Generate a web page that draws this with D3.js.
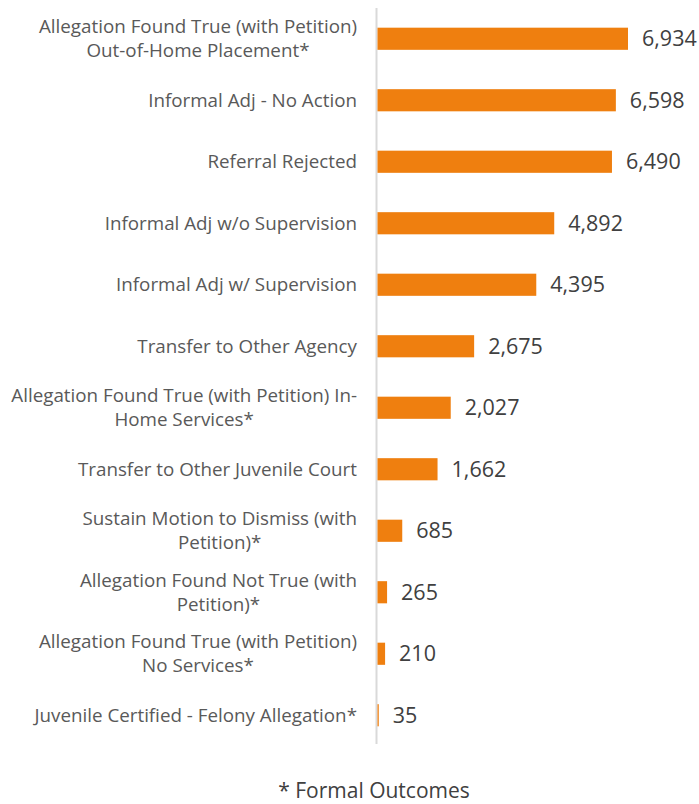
<!DOCTYPE html>
<html>
<head>
<meta charset="utf-8">
<script src="https://cdn.jsdelivr.net/npm/d3@7"></script>
<style>
  body { margin: 0; background: #fff; }
  svg text { font-family: "Open Sans", sans-serif; }
</style>
</head>
<body>
<div id="chart"></div>
<script>
const categories = [
  ["Allegation Found True (with Petition)", "Out-of-Home Placement*"],
  ["Informal Adj - No Action"],
  ["Referral Rejected"],
  ["Informal Adj w/o Supervision"],
  ["Informal Adj w/ Supervision"],
  ["Transfer to Other Agency"],
  ["Allegation Found True (with Petition) In-", "Home Services*"],
  ["Transfer to Other Juvenile Court"],
  ["Sustain Motion to Dismiss (with", "Petition)*"],
  ["Allegation Found Not True (with", "Petition)*"],
  ["Allegation Found True (with Petition)", "No Services*"],
  ["Juvenile Certified - Felony Allegation*"]
];
const values = [6934, 6598, 6490, 4892, 4395, 2675, 2027, 1662, 685, 265, 210, 35];
const footnote = "* Formal Outcomes";

const W = 699, H = 804;
const x0 = 377.5;
const svg = d3.select('#chart').append('svg')
  .attr('width', W)
  .attr('height', H);

const x = d3.scaleLinear().domain([0, 6934]).range([x0, 628]);
const y = d3.scaleBand().domain(d3.range(values.length)).range([8, 746]).paddingInner(0.64).paddingOuter(0.32);

// axis line (under the bars)
svg.append('line')
  .attr('x1', 376.5).attr('x2', 376.5)
  .attr('y1', 8).attr('y2', 744)
  .attr('stroke', '#d9d9d9')
  .attr('stroke-width', 2);

svg.selectAll('rect.bar')
  .data(values)
  .enter().append('rect')
  .attr('class', 'bar')
  .attr('x', x0)
  .attr('y', (d, i) => y(i))
  .attr('width', d => x(d) - x0)
  .attr('height', y.bandwidth())
  .attr('fill', '#ef7f0f');

// category labels: lines centred on each other, block right-aligned at 357
const labels = svg.selectAll('g.cat')
  .data(categories)
  .enter().append('g')
  .attr('class', 'cat');

labels.each(function(lines, i) {
  const g = d3.select(this);
  const cy = y(i) + y.bandwidth() / 2;
  const lh = 24;
  const top = cy - (lines.length - 1) * lh / 2;
  const txt = g.selectAll('text')
    .data(lines)
    .enter().append('text')
    .attr('y', (d, j) => top + j * lh)
    .attr('dy', '0.35em')
    .attr('font-size', '18.8px')
    .attr('fill', '#595959')
    .attr('text-anchor', 'middle')
    .text(d => d);
  let maxW = 0;
  txt.each(function() { maxW = Math.max(maxW, this.getComputedTextLength()); });
  txt.attr('x', 357 - maxW / 2);
});

// value labels
svg.selectAll('text.val')
  .data(values)
  .enter().append('text')
  .attr('class', 'val')
  .attr('x', d => x(d) + 14)
  .attr('y', (d, i) => y(i) + y.bandwidth() / 2)
  .attr('dy', '0.35em')
  .attr('font-size', '21.5px')
  .attr('fill', '#404040')
  .text(d => d3.format(',')(d));

svg.append('text')
  .attr('x', 374)
  .attr('y', 791)
  .attr('dy', '0.35em')
  .attr('text-anchor', 'middle')
  .attr('font-size', '21px')
  .attr('fill', '#404040')
  .text(footnote);
</script>
</body>
</html>
